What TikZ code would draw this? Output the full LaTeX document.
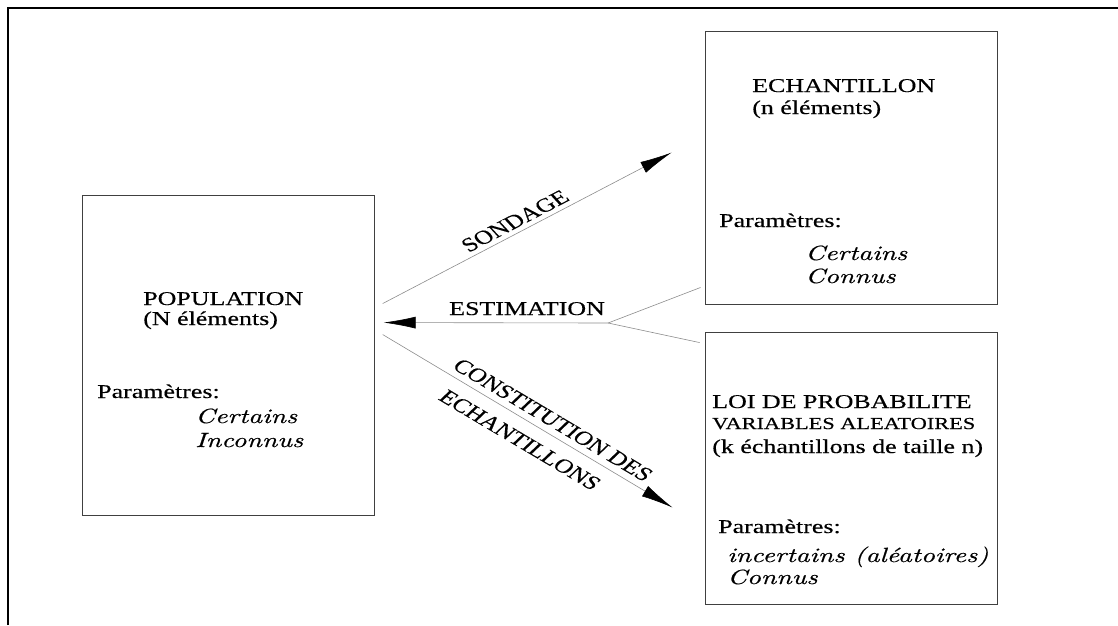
\documentclass[tikz,border=0pt]{standalone}
\usepackage{fontspec}
\newfontfamily\tms[UprightFeatures={FakeBold=0.3}]{Liberation Serif}
\newfontfamily\lmit[UprightFeatures={FakeBold=0.4}]{lmroman10-italic.otf}
\usetikzlibrary{arrows.meta,calc}
\begin{document}
\begin{tikzpicture}[x={(0.75188pt,0pt)},y={(0pt,-1pt)},
  box/.style={draw=black!75, line width=0.9pt, inner sep=0pt, minimum width=292pt/1.33},
  conn/.style={draw=black!45, line width=0.6pt},
  tip/.style={-{Latex[black,length=32pt,width=12pt]}},
  txt/.style={font=\tms\fontsize{19.5}{20}\selectfont, inner sep=0pt, anchor=base west},
  smalltxt/.style={font=\tms\fontsize{16.8}{18}\selectfont, inner sep=0pt, anchor=base west},
  ittxt/.style={font=\lmit\fontsize{20.6}{21}\selectfont, inner sep=0pt, anchor=base west},
  lbl/.style={font=\tms\fontsize{19.5}{20}\selectfont, inner sep=0pt},
  frame/.style={draw=black, line width=1.6pt}]
\begin{scope}[xscale=1.33, transform shape]
\useasboundingbox (0,0) rectangle (1118,625);
% outer frame
\draw[frame] (8,625) -- (8,8) -- (1118,8);
% boxes
\node[box, minimum height=320pt] (pop) at (228,355) {};
\node[box, minimum height=273pt] (ech) at (851,167.5) {};
\node[box, minimum height=272pt] (loi) at (851,468) {};
% population texts
\node[txt] (p1) at (143,305) {POPULATION};
\node[txt] (p2) at (143,325) {(N éléments)};
\node[txt] (p3) at (97,398) {Paramètres:};
\node[ittxt] (p4) at (195,423) {Certains};
\node[ittxt] (p5) at (195,447) {Inconnus};
% echantillon texts
\node[txt] (e1) at (752,92) {ECHANTILLON};
\node[txt] (e2) at (752,114) {(n éléments)};
\node[txt] (e3) at (719,227) {Paramètres:};
\node[ittxt] (e4) at (805,260) {Certains};
\node[ittxt] (e5) at (805,283) {Connus};
% loi texts
\node[txt] (l1) at (712,408) {LOI DE PROBABILITE};
\node[smalltxt] (l2) at (712,429) {VARIABLES ALEATOIRES};
\node[txt] (l3) at (712,453) {(k échantillons de taille n)};
\node[txt] (l4) at (718,533) {Paramètres:};
\node[ittxt] (l5) at (727,562) {incertains (aléatoires)};
\node[ittxt] (l6) at (727,584) {Connus};
% connector end points
\coordinate (sA) at ($(pop.north east)+(8,109)$);
\coordinate (sB) at ($(ech.north west)+(-33,122)$);
\coordinate (eA) at ($(pop.north east)+(9,128)$);
\coordinate (j) at (608,323);
\coordinate (eB) at ($(ech.south west)+(-4,-17)$);
\coordinate (eC) at ($(loi.north west)+(-5,11)$);
\coordinate (cA) at ($(pop.north east)+(8,140)$);
\coordinate (cB) at ($(loi.north west)+(-32,176)$);
% connectors
\draw[conn, tip] (sA) -- (sB);
\draw[conn, tip] (j) -- (eA);
\draw[conn] (j) -- (eB);
\draw[conn] (j) -- (eC);
\draw[conn, tip] (cA) -- (cB);
% labels
\node[lbl, rotate=34.7] (lsond) at (515,221) {SONDAGE};
\node[lbl, anchor=base] (lest) at (527,315) {ESTIMATION};
\node[lbl, rotate=-38.3] (lcon) at (553,420) {CONSTITUTION DES};
\node[lbl, rotate=-38.3] (lechs) at (520,440) {ECHANTILLONS};
\end{scope}
\end{tikzpicture}
\end{document}
